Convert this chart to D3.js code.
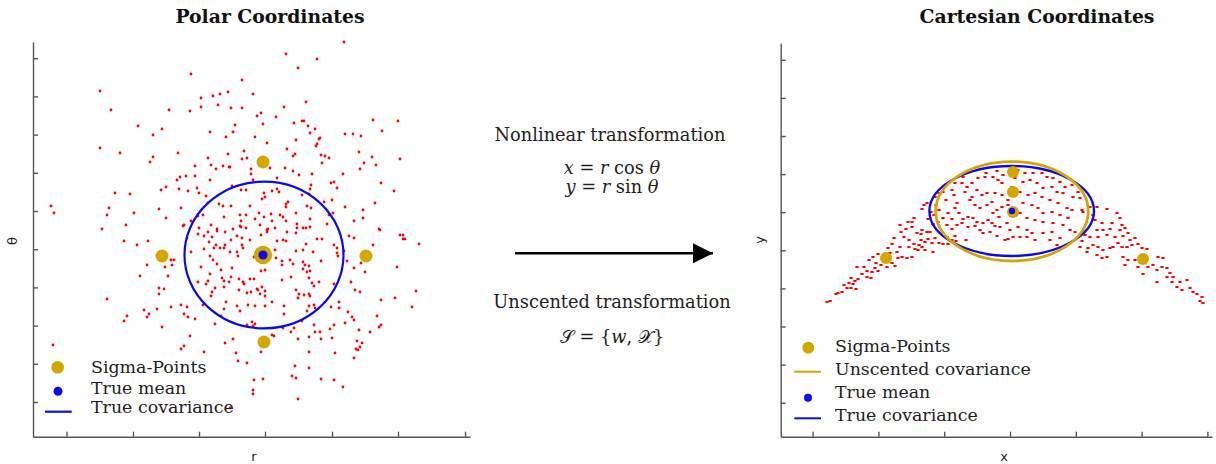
<!DOCTYPE html>
<html>
<head>
<meta charset="utf-8">
<style>
  body { margin: 0; background: white; }
  svg { display: block; }
  .title { font-family: "DejaVu Serif", serif; font-weight: bold; font-size: 18.8px; fill: #111; }
  .leg { font-family: "DejaVu Serif", serif; font-size: 17.4px; fill: #222; }
  .mid { font-family: "DejaVu Serif", serif; font-size: 17.8px; fill: #222; }
  .axlab { font-family: "DejaVu Sans", sans-serif; font-size: 13px; fill: #222; }
  .axis path, .axis line { stroke: #555; stroke-width: 1.4; }
</style>
<script src="https://d3js.org/d3.v7.min.js"></script>
</head>
<body>
<svg id="chart"></svg>
<script>
// ---- polar panel data (r, theta) ----
const polarPoints = [
[19.1,36.6],[10.0,34.9],[11.1,33.0],[16.9,33.0],[19.0,32.9],[20.1,34.2],[21.3,34.4],[22.0,34.6],[22.8,34.8],[21.8,33.5],
[20.1,33.3],[23.1,33.2],[13.8,31.4],[16.2,31.1],[15.3,30.5],[21.0,30.8],[23.3,30.8],[23.5,31.5],[22.6,30.3],[10.0,29.2],
[12.0,28.7],[17.8,28.7],[15.3,28.3],[15.0,27.8],[20.8,28.2],[22.8,28.6],[19.5,27.4],[21.1,27.5],[21.6,27.1],[22.3,27.4],
[22.9,27.3],[18.0,26.3],[18.6,26.4],[19.5,26.4],[17.7,26.0],[21.0,26.0],[23.2,25.4],[11.5,24.7],[13.0,24.6],[16.1,25.0],
[16.6,25.3],[17.9,25.1],[18.8,24.9],[19.7,25.2],[19.9,24.7],[20.6,24.4],[5.1,23.4],[5.4,22.7],[10.9,23.2],[10.7,22.5],
[13.4,22.7],[15.9,23.1],[16.6,22.2],[18.1,23.2],[21.9,23.6],[22.3,23.4],[23.1,23.4],[22.4,22.3],[19.8,22.4],[20.3,22.5],
[12.6,21.5],[10.2,21.1],[18.3,21.4],[19.1,21.9],[19.9,21.2],[21.1,21.5],[21.7,21.1],[20.8,23.7],
[34.4,39.8],[28.6,38.6],[31.7,38.1],[29.8,37.2],[24.2,36.0],[25.3,34.6],[30.6,33.8],[24.2,33.2],[28.4,33.3],[26.1,32.7],
[25.7,32.4],[27.6,32.3],[26.3,31.6],[29.4,31.7],[30.2,31.9],[30.4,31.9],[30.8,31.4],[31.5,31.1],[31.0,30.7],[25.5,30.3],
[29.6,30.0],[32.0,30.2],[31.9,30.1],[31.7,29.6],[31.6,29.4],[34.5,30.6],[35.3,30.6],[36.1,30.4],[37.3,32.0],[39.8,31.9],
[38.2,30.9],[26.7,29.7],[28.7,29.1],[24.4,28.9],[24.2,28.1],[24.7,28.2],[29.5,28.6],[29.3,28.4],[32.1,28.5],[32.5,28.4],
[32.9,28.2],[32.2,27.7],[35.9,28.8],[37.2,28.3],[36.4,27.7],[37.6,27.5],[40.0,28.1],[36.0,27.1],[27.0,27.2],[28.5,27.2],
[25.1,27.1],[23.0,27.3],[29.3,26.9],[29.9,26.5],[31.2,26.6],[25.1,26.6],[25.3,26.0],[27.7,26.2],[34.3,26.6],[33.1,25.7],
[33.4,25.8],[33.7,25.2],[38.1,25.7],[39.4,24.9],[31.1,25.5],[31.0,25.1],[30.9,24.6],[24.1,25.0],[24.6,25.0],[26.4,24.7],
[27.2,24.9],[27.7,25.1],[27.9,24.8],[26.2,24.1],[26.5,24.3],[30.2,24.5],[28.8,23.8],[28.6,23.6],[28.6,23.3],[30.7,23.4],
[31.1,23.2],[32.4,23.8],[33.2,24.0],[34.5,23.3],[36.3,23.0],[37.5,23.7],[25.0,23.4],[25.9,22.7],[27.1,22.6],[28.0,22.5],
[28.3,22.3],[29.6,22.7],[32.9,22.5],[33.3,22.7],[31.0,22.1],[36.3,22.2],[35.4,21.9],[24.0,22.5],[24.6,22.5],[24.1,21.9],
[25.5,22.1],[26.4,22.3],[27.2,21.9],[28.6,21.9],[29.7,21.6],[32.7,21.6],[24.0,21.4],[24.6,21.2],[26.0,21.5],[27.5,21.2],
[30.3,21.2],[30.6,21.2],[31.0,21.3],[37.9,21.1],[26.8,21.1],
[12.4,19.9],[13.7,19.5],[14.8,19.9],[14.7,17.5],[14.0,16.4],[16.5,17.3],[17.1,18.0],[17.4,18.0],[17.2,17.5],[16.8,16.4],
[15.9,15.2],[16.4,15.1],[15.9,14.6],[10.7,14.1],[17.1,13.3],[18.1,13.5],[18.7,13.3],[14.4,13.0],[15.7,13.1],[14.9,12.6],
[14.7,12.3],[12.7,12.4],[12.4,11.9],[18.4,12.6],[18.8,12.3],[19.5,12.1],[16.2,11.3],[19.0,10.4],[5.3,9.5],[18.4,9.4],
[18.1,9.1],[20.4,8.8],[22.5,9.7],[23.3,10.1],[21.5,11.6],[22.1,12.4],[22.4,13.1],[22.6,13.8],
[18.4,21.5],[19.8,20.6],[20.4,20.4],[20.8,20.8],[21.2,20.3],[21.7,20.9],[22.5,20.8],[23.1,20.0],[18.7,20.2],[19.1,18.8],
[20.4,19.1],[20.9,19.8],[21.6,19.5],[21.4,19.2],[22.0,19.2],[22.4,19.2],[22.5,19.5],[23.0,18.8],[21.0,18.4],[21.3,18.0],
[21.7,17.6],[22.1,17.0],[23.2,17.2],[20.1,17.3],[21.0,16.6],[22.2,16.2],[22.4,15.9],[23.1,16.3],[22.9,15.8],[19.8,15.8],
[20.6,15.6],[20.8,15.9],[21.5,15.2],[22.4,15.3],[21.2,14.8],[21.1,14.4],[20.3,13.5],
[23.3,21.1],[24.1,21.3],[23.7,20.4],[24.2,20.2],[25.0,20.0],[26.1,20.5],[26.7,21.0],[26.7,20.8],[28.7,20.8],[29.7,21.2],
[29.6,20.7],[27.7,19.9],[28.3,20.0],[28.6,19.9],[30.6,19.6],[31.7,20.1],[32.2,20.1],[33.4,19.5],[33.7,19.2],[34.4,18.9],
[34.9,20.4],[35.4,20.2],[38.0,21.0],[40.0,20.5],[40.3,20.5],[40.5,20.1],[40.3,20.1],[41.9,19.6],[37.3,19.5],[24.2,19.5],
[24.3,19.2],[23.7,18.8],[23.8,18.4],[25.4,18.3],[27.5,19.0],[29.6,18.9],[30.3,19.0],[31.3,18.8],[33.7,18.7],[33.8,18.4],
[27.6,18.2],[28.2,17.9],[28.2,17.5],[29.0,18.0],[29.3,17.6],[30.3,17.8],[30.5,17.5],[30.9,17.4],[30.3,17.1],[30.7,16.8],
[31.0,16.9],[30.9,16.2],[32.1,17.9],[34.7,17.9],[35.4,17.2],[36.1,17.7],[36.5,16.8],[39.7,17.3],[23.9,16.1],[24.3,15.8],
[24.4,15.6],[25.0,16.1],[25.4,16.1],[26.1,16.9],[26.5,17.0],[26.2,15.3],[25.7,15.1],[25.8,15.0],[26.5,14.9],[26.5,14.4],
[26.0,14.6],[23.9,15.0],[24.7,14.7],[25.1,14.8],[29.1,16.3],[28.2,16.0],[31.2,15.7],[31.4,15.4],[31.9,15.8],[33.4,15.6],
[29.6,15.0],[29.9,14.6],[29.8,14.2],[30.4,14.5],[30.9,14.6],[31.0,14.4],[27.2,13.8],[24.8,13.5],[25.5,13.4],[26.5,13.4],
[23.7,13.4],[24.0,12.9],[28.4,13.4],[28.4,12.6],[30.9,13.4],[31.4,13.5],[30.7,12.9],[31.5,13.2],[33.1,13.3],[33.9,13.8],
[33.9,13.2],[35.1,15.8],[35.5,15.0],[36.0,14.8],[34.8,12.8],[35.2,12.3],[35.4,12.0],[34.5,11.7],[39.5,14.2],[38.1,14.0],
[41.2,13.3],[41.6,14.9],[37.7,12.4],[37.9,11.3],[38.1,11.5],[37.0,10.8],[35.9,11.0],[33.4,11.5],[33.0,11.1],[31.4,11.5],
[31.5,10.8],[32.0,10.8],[30.2,11.9],[29.1,10.8],[29.4,11.2],[28.3,11.2],[27.2,10.5],[27.4,10.4],[30.9,10.3],[32.1,10.1],
[33.2,10.2],[29.8,10.1],[24.7,11.5],[25.2,11.8],[25.3,11.4],[25.5,11.6],[35.7,9.9],[36.2,9.7],[36.0,9.3],[35.6,9.1],
[35.8,9.0],[35.4,8.2],[33.5,8.7],[30.9,8.8],[26.1,8.8],[23.6,8.7],[23.8,7.9],[24.7,7.7],[29.5,7.4],[30.9,7.2],
[29.2,6.4],[29.6,6.2],[32.1,6.1],[33.4,6.0],[34.3,5.3],[25.4,6.0],[26.3,6.1],[25.3,5.0],[25.3,4.6],[29.8,4.1],[23.0,3.2]
];
const polarSigma = [[26.3,18.5],[16.2,18.4],[36.6,18.4],[26.3,27.8],[26.4,9.8]];
const polarMean = [26.3,18.5];
const polarCov = [26.4,18.5,7.95,7.33];   // centre r, centre theta, half-width, half-height

// ---- cartesian panel data (x, y) ----
const cartPoints = [
[-18.3,13.8],[-18.0,13.9],[-17.4,14.6],[-17.2,14.7],[-16.8,14.8],[-16.6,15.5],[-16.3,15.2],[-15.9,15.2],[-16.1,15.7],[-15.7,15.6],
[-15.4,15.1],[-15.9,16.2],[-15.5,15.9],[-15.2,16.1],[-15.3,17.3],[-14.6,17.3],[-14.8,16.6],[-14.3,16.3],[-13.9,16.2],[-14.3,16.9],
[-13.8,16.8],[-13.5,17.2],[-13.2,16.9],[-14.1,18.0],[-13.7,18.3],[-13.2,18.6],[-13.4,17.7],[-12.9,17.5],[-12.3,17.3],[-11.8,17.7],
[-11.5,17.4],[-12.2,19.2],[-11.8,19.6],[-12.0,18.7],[-11.3,18.8],[-11.0,19.3],[-10.8,18.3],[-10.3,18.2],[-9.8,18.3],[-11.2,18.2],
[-11.6,20.2],[-10.9,20.8],[-11.0,21.5],[-10.4,21.1],[-10.6,20.3],[-10.1,20.0],[-10.1,19.3],[-9.6,19.6],[-9.5,19.1],[-9.1,19.5],
[-9.2,19.0],[-8.8,19.3],[-8.5,19.0],[-8.9,20.0],[-8.5,19.8],[-8.2,20.1],[-7.8,19.7],[-7.7,18.8],[-9.8,21.8],[-9.6,22.2],
[-10.2,21.8],[-9.8,21.3],[-8.8,21.0],[-8.3,20.8],[-9.3,20.7],[-8.9,20.6],[-8.0,20.8],[-7.5,20.2],[-7.1,19.7],[-6.7,19.6],
[-6.2,19.6],[-6.3,20.3],[-5.8,20.0],[-5.4,19.9],[-4.4,20.0],[-5.5,20.4],[-7.7,21.6],[-7.2,21.8],[-8.2,22.1],[-8.8,23.1],
[-8.6,23.5],[-8.3,23.7],[-7.9,22.8],[-7.6,22.5],[-7.4,23.5],[-7.5,24.3],[-7.1,24.7],[-6.7,24.8],[-6.4,24.0],[-6.2,22.7],
[-5.8,22.1],[-6.7,22.2],[-7.1,23.0],[-6.3,21.5],[-5.8,21.1],[-5.3,21.5],[-4.8,21.7],[-4.2,21.3],[-3.5,21.4],[-3.0,21.0],
[-2.7,20.7],[-2.0,20.8],[-1.3,20.4],[-0.2,20.1],[-1.5,21.4],[-1.0,21.3],[-5.8,25.0],[-5.6,24.5],[-5.3,23.7],[-5.5,23.2],
[-5.1,22.7],[-4.7,22.1],[-4.2,22.3],[-3.7,22.2],[-3.3,21.8],[-2.7,21.7],[-2.2,22.0],[-1.8,21.7],[-1.1,22.3],[-0.3,21.7],
[-4.8,25.7],[-4.3,25.3],[-3.8,25.7],[-3.2,26.2],[-2.5,26.3],[-1.7,26.3],[-1.2,26.0],[-0.8,25.7],[-3.3,25.0],[-2.8,24.5],
[-2.3,24.7],[-1.5,24.7],[-0.8,24.5],[-0.2,24.0],[-4.0,24.0],[-3.5,23.5],[-3.0,23.2],[-2.3,23.5],[-1.8,23.8],[-1.3,23.0],
[-0.8,23.3],[-1.7,22.7],[-4.5,24.8],[-3.8,24.3],[-5.5,25.7],[-4.7,26.3],[-2.4,26.7],[-1.3,26.9],[-0.7,26.5],[0.2,25.3],
[0.8,27.0],[1.5,26.7],[2.3,26.7],[3.2,26.7],[3.7,26.3],[4.3,26.2],[5.0,25.8],[5.5,25.3],[6.2,25.5],[6.8,24.8],
[1.3,25.8],[2.0,26.0],[2.7,25.7],[3.3,25.2],[4.2,25.3],[4.7,24.8],[5.3,24.7],[6.3,24.3],[7.0,24.2],[1.0,24.8],
[1.8,24.5],[2.5,24.7],[3.2,24.3],[4.0,24.0],[4.8,23.7],[5.7,23.2],[6.2,23.0],[7.2,23.0],[7.3,22.8],[1.3,23.7],
[2.2,23.5],[2.8,23.2],[3.3,22.7],[4.2,22.8],[5.0,22.5],[5.8,22.2],[1.0,22.7],[1.7,22.2],[2.5,22.0],[3.3,21.8],
[4.3,21.7],[5.3,21.5],[6.0,21.0],[6.5,20.8],[0.8,21.3],[1.7,21.0],[2.2,20.7],[3.3,20.7],[4.2,20.8],[5.0,20.2],
[0.3,20.3],[1.0,20.3],[1.7,20.3],[2.5,20.0],[4.0,20.0],[4.7,19.5],
[8.0,23.3],[8.7,23.3],[9.7,23.1],[10.7,22.7],[8.3,22.5],[8.5,22.0],[9.2,21.7],[10.2,21.7],[11.0,22.2],[11.2,21.5],
[8.7,21.0],[9.3,21.0],[10.0,21.1],[11.0,21.0],[11.5,21.2],[11.8,20.7],[7.3,20.7],[8.0,20.3],[8.8,20.3],[9.7,20.5],
[10.5,20.3],[11.3,20.4],[12.0,20.0],[12.5,20.2],[7.2,19.9],[7.0,19.3],[7.8,19.2],[8.3,19.5],[8.8,19.3],[9.3,19.0],
[10.3,19.3],[10.8,19.7],[11.2,19.3],[11.7,19.3],[12.2,19.5],[12.8,19.6],[13.2,19.2],[13.7,19.1],[8.7,18.5],[9.2,18.2],
[9.7,18.3],[11.3,18.3],[11.8,18.0],[11.5,17.5],[12.5,18.0],[12.8,17.3],[13.3,16.6],[13.8,17.3],[14.3,17.5],[14.8,18.3],
[15.3,18.2],[14.7,17.0],[15.2,17.3],[15.7,17.2],[16.0,16.7],[15.7,16.3],[16.3,16.3],[16.2,15.8],[17.0,15.8],[17.7,16.0],
[16.7,15.3],[17.2,15.0],[18.0,15.2],[18.3,14.8],[18.7,14.6],[19.2,14.3],[19.0,13.9],[19.3,13.7],[14.7,15.8],[10.0,19.2],
[7.5,20.5],[7.7,18.8],[0.5,26.2],[-0.2,23.5],[0.6,22.5],[0.0,21.0],[-0.5,20.0]
];
const cartSigma = [[0.3,26.8],[0.3,24.8],[0.3,22.8],[-12.4,18.2],[13.3,18.1]];
const cartMean = [0.2,22.9];
const trueCov = [0.17,22.9,8.23,4.5];
const unscentedCov = [0.2,22.87,7.63,4.97];

// ---- ticks (no labels on the axes) ----
const polarRTicks = [6.65, 13.3, 19.9, 26.5, 33.2, 39.8, 46.5];
const polarThetaTicks = [3.8, 7.62, 11.44, 15.26, 19.08, 22.9, 26.72, 30.54, 34.36, 38.18];
const cartXTicks = [-19.74, -13.16, -6.58, 0, 6.58, 13.16, 19.74];
const cartYTicks = [3.73, 7.54, 11.35, 15.16, 18.97, 22.78, 26.59, 30.4, 34.21, 38.02];

const polarLegend = ["Sigma-Points", "True mean", "True covariance"];
const cartLegend = ["Sigma-Points", "Unscented covariance", "True mean", "True covariance"];

const gold = "#d4a600", blue = "#0a0af0", red = "#ff0000";

const svg = d3.select("#chart").attr("width", 1216).attr("height", 464);

// scales
let px = d3.scaleLinear().domain([3.3, 47.0]).range([33, 470]);
let py = d3.scaleLinear().domain([0.33, 39.8]).range([436.7, 42]);
let cx = d3.scaleLinear().domain([-22.93, 20.2]).range([780.7, 1212]);
let cy = d3.scaleLinear().domain([0.33, 39.67]).range([436.7, 43.3]);

function drawAxes(x, y, xt, yt) {
  svg.append("g").attr("class", "axis")
    .attr("transform", `translate(0,${y.range()[0]})`)
    .call(d3.axisBottom(x).tickValues(xt).tickSize(-5).tickSizeOuter(0).tickFormat(""));
  svg.append("g").attr("class", "axis")
    .attr("transform", `translate(${x.range()[0]},0)`)
    .call(d3.axisLeft(y).tickValues(yt).tickSize(-5).tickSizeOuter(0).tickFormat(""));
}
drawAxes(px, py, polarRTicks, polarThetaTicks);
drawAxes(cx, cy, cartXTicks, cartYTicks);

// ---- polar panel ----
svg.append("g").selectAll("circle").data(polarPoints).enter().append("circle")
  .attr("cx", d => px(d[0])).attr("cy", d => py(d[1])).attr("r", 1.4).attr("fill", red);

svg.append("ellipse")
  .attr("cx", px(polarCov[0])).attr("cy", py(polarCov[1]))
  .attr("rx", px(polarCov[0] + polarCov[2]) - px(polarCov[0]))
  .attr("ry", py(polarCov[1]) - py(polarCov[1] + polarCov[3]))
  .attr("fill", "none").attr("stroke", blue).attr("stroke-width", 2.2);

svg.append("g").selectAll("circle").data(polarSigma).enter().append("circle")
  .attr("cx", d => px(d[0])).attr("cy", d => py(d[1]))
  .attr("r", (d, i) => i == 0 ? 9.2 : 6.5).attr("fill", gold);
svg.append("circle").attr("cx", px(polarMean[0])).attr("cy", py(polarMean[1])).attr("r", 4.6).attr("fill", blue);

// ---- cartesian panel ----
svg.append("g").selectAll("rect").data(cartPoints).enter().append("rect")
  .attr("x", d => cx(d[0]) - 1.6).attr("y", d => cy(d[1]) - 1)
  .attr("width", 3.2).attr("height", 2).attr("fill", red);

function ell(c, col, w) {
  svg.append("ellipse")
    .attr("cx", cx(c[0])).attr("cy", cy(c[1]))
    .attr("rx", cx(c[0] + c[2]) - cx(c[0]))
    .attr("ry", cy(c[1]) - cy(c[1] + c[3]))
    .attr("fill", "none").attr("stroke", col).attr("stroke-width", w);
}
ell(trueCov, blue, 2.4);
ell(unscentedCov, gold, 2.8);

svg.append("g").selectAll("circle").data(cartSigma).enter().append("circle")
  .attr("cx", d => cx(d[0])).attr("cy", d => cy(d[1])).attr("r", 6).attr("fill", gold);
svg.append("circle").attr("cx", cx(cartMean[0])).attr("cy", cy(cartMean[1])).attr("r", 3.2).attr("fill", blue);

// ---- titles & axis labels ----
svg.append("text").attr("class", "title").attr("x", 270).attr("y", 23).attr("text-anchor", "middle").text("Polar Coordinates");
svg.append("text").attr("class", "title").attr("x", 1037).attr("y", 23).attr("text-anchor", "middle").text("Cartesian Coordinates");
svg.append("text").attr("class", "axlab").attr("x", 254).attr("y", 461).attr("text-anchor", "middle").text("r");
svg.append("text").attr("class", "axlab").attr("x", 1004).attr("y", 461).attr("text-anchor", "middle").text("x");
svg.append("text").attr("class", "axlab").attr("transform", "translate(17,241) rotate(-90)").attr("text-anchor", "middle").text("θ");
svg.append("text").attr("class", "axlab").attr("transform", "translate(764,240) rotate(-90)").attr("text-anchor", "middle").text("y");

// ---- legends ----
let lg = svg.append("g");
lg.append("circle").attr("cx", 57.7).attr("cy", 367.3).attr("r", 6.3).attr("fill", gold);
lg.append("circle").attr("cx", 58).attr("cy", 391.3).attr("r", 4.5).attr("fill", blue);
lg.append("line").attr("x1", 45).attr("x2", 71.7).attr("y1", 411.7).attr("y2", 411.7).attr("stroke", blue).attr("stroke-width", 2.2);
[372.7, 394.3, 413.3].forEach((yy, i) => {
  lg.append("text").attr("class", "leg").attr("x", 91).attr("y", yy).text(polarLegend[i]);
});

let rg = svg.append("g");
rg.append("circle").attr("cx", 808.3).attr("cy", 347.7).attr("r", 6).attr("fill", gold);
rg.append("line").attr("x1", 794.3).attr("x2", 821).attr("y1", 371.7).attr("y2", 371.7).attr("stroke", gold).attr("stroke-width", 2);
rg.append("circle").attr("cx", 808).attr("cy", 397.7).attr("r", 4).attr("fill", blue);
rg.append("line").attr("x1", 794.3).attr("x2", 821).attr("y1", 418.3).attr("y2", 418.3).attr("stroke", blue).attr("stroke-width", 2);
[352.3, 375.3, 398, 420.7].forEach((yy, i) => {
  rg.append("text").attr("class", "leg").attr("x", 835).attr("y", yy).text(cartLegend[i]);
});

// ---- middle annotation ----
svg.append("text").attr("class", "mid").attr("x", 610).attr("y", 140.7).attr("text-anchor", "middle").text("Nonlinear transformation");
function mathLine(yy, parts) {
  let t = svg.append("text").attr("class", "mid").attr("x", 612).attr("y", yy).attr("text-anchor", "middle");
  parts.forEach(p => t.append("tspan").attr("font-style", p[1] ? "italic" : "normal").text(p[0]));
}
mathLine(174.3, [["x", 1], [" = ", 0], ["r", 1], [" cos ", 0], ["θ", 1]]);
mathLine(193.3, [["y", 1], [" = ", 0], ["r", 1], [" sin ", 0], ["θ", 1]]);
svg.append("text").attr("class", "mid").attr("x", 612).attr("y", 308).attr("text-anchor", "middle").text("Unscented transformation");
mathLine(343, [["𝒮", 0], [" = {", 0], ["w", 1], [", ", 0], ["𝒳", 0], ["}", 0]]);

svg.append("defs").append("marker").attr("id", "arr")
  .attr("viewBox", "0 0 10 10").attr("refX", 10).attr("refY", 5)
  .attr("markerWidth", 25).attr("markerHeight", 20).attr("markerUnits", "userSpaceOnUse")
  .attr("orient", "auto")
  .append("path").attr("d", "M0,0L10,5L0,10Z").attr("fill", "black");
svg.append("line").attr("x1", 515).attr("x2", 713).attr("y1", 253.3).attr("y2", 253.3)
  .attr("stroke", "black").attr("stroke-width", 2.4).attr("marker-end", "url(#arr)");
</script>
</body>
</html>
